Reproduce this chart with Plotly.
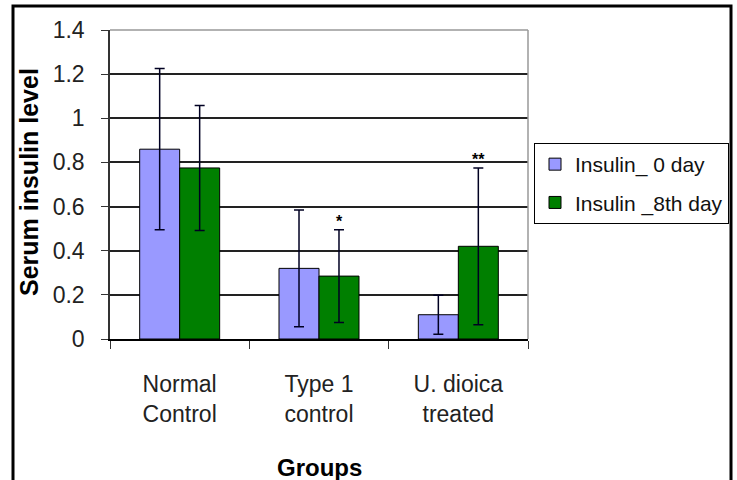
import plotly.graph_objects as go

categories = ["Normal<br>Control", "Type 1<br>control", "U. dioica<br>treated"]
series_names = ["Insulin_ 0 day", "Insulin _8th day"]
day0 = [0.86, 0.32, 0.11]
day0_err = [0.365, 0.265, 0.088]
day8 = [0.775, 0.285, 0.42]
day8_err = [0.283, 0.21, 0.355]
sig_marks = ["", "*", "**"]
y_ticks = [0, 0.2, 0.4, 0.6, 0.8, 1.0, 1.2, 1.4]
y_ticktext = ["0", "0.2", "0.4", "0.6", "0.8", "1", "1.2", "1.4"]

FONT = "Liberation Sans, Arial, sans-serif"
W, H = 737, 480
L, R, T, B = 110, 209, 30, 141
pw, ph = W - L - R, H - T - B

def px_x(x):
    return (x - L) / pw

def px_y(y):
    return (H - B - y) / ph

fig = go.Figure()
fig.add_trace(go.Bar(
    name=series_names[0], x=categories, y=day0, legendgroup="a",
    marker=dict(color="#9999FF", line=dict(color="#000000", width=1)),
    error_y=dict(type="data", array=day0_err, color="#000022", thickness=1.5, width=5),
))
fig.add_trace(go.Bar(
    name=series_names[1], x=categories, y=day8, legendgroup="b",
    marker=dict(color="#007F00", line=dict(color="#000000", width=1)),
    error_y=dict(type="data", array=day8_err, color="#000022", thickness=1.5, width=5),
))

for cat, v, e, m in zip(categories, day8, day8_err, sig_marks):
    if m:
        fig.add_annotation(x=cat, y=v + e, xref="x", yref="y", text="<b>" + m + "</b>",
                           showarrow=False, xshift=20, yshift=-2, yanchor="bottom",
                           font=dict(family=FONT, size=16, color="#000000"))

fig.add_annotation(text="<b>Serum insulin level</b>", xref="paper", yref="paper",
                   x=px_x(29), y=px_y(182), textangle=-90, showarrow=False,
                   xanchor="center", yanchor="middle",
                   font=dict(family=FONT, size=25, color="#000000"))
fig.add_annotation(text="<b>Groups</b>", xref="paper", yref="paper",
                   x=0.5, y=px_y(467), showarrow=False,
                   xanchor="center", yanchor="middle",
                   font=dict(family=FONT, size=24, color="#000000"))

# plot top and right borders (gray)
fig.add_shape(type="line", xref="paper", yref="paper", x0=0, x1=1, y0=1, y1=1,
              line=dict(color="#999999", width=1.5))
fig.add_shape(type="line", xref="paper", yref="paper", x0=1, x1=1, y0=0, y1=1,
              line=dict(color="#999999", width=1.5))
# outer frame
fig.add_shape(type="rect", xref="paper", yref="paper",
              x0=px_x(13), x1=px_x(731), y0=px_y(490), y1=px_y(6),
              line=dict(color="#000000", width=3), fillcolor="rgba(0,0,0,0)")

fig.update_layout(
    width=W, height=H,
    margin=dict(l=L, r=R, t=T, b=B, autoexpand=False),
    paper_bgcolor="white", plot_bgcolor="white",
    barmode="group", bargap=0.426, bargroupgap=0,
    showlegend=True,
    legend=dict(x=px_x(534), y=px_y(143), xanchor="left", yanchor="top",
                bordercolor="#000000", borderwidth=1, bgcolor="white",
                font=dict(family=FONT, size=21, color="#111111"),
                traceorder="grouped", tracegroupgap=8),
    xaxis=dict(type="category", tickson="boundaries", ticks="outside", ticklen=8,
               tickcolor="#333333", showline=True, linecolor="#000000", linewidth=1.5,
               showgrid=False, ticklabelstandoff=24,
               tickfont=dict(family=FONT, size=23, color="#222222")),
    yaxis=dict(range=[0, 1.4], tickvals=y_ticks, ticktext=y_ticktext,
               ticks="outside", ticklen=7, tickcolor="#333333",
               showline=True, linecolor="#333333", linewidth=1.5,
               showgrid=True, gridcolor="#222222", gridwidth=1.5,
               zeroline=False, ticklabelstandoff=12,
               tickfont=dict(family=FONT, size=23, color="#222222")),
)

fig.write_html("out.html", config={"displayModeBar": False},
               post_script="document.body.style.margin='0';document.body.style.overflow='hidden';")
